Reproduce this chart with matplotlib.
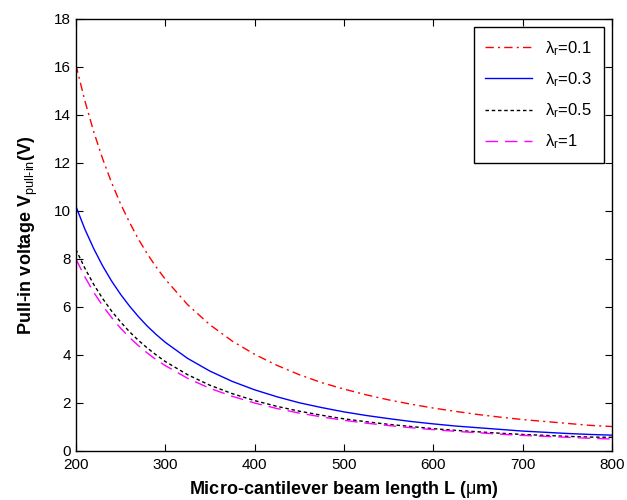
import numpy as np
import matplotlib
matplotlib.use('Agg')
import matplotlib.pyplot as plt

plt.rcParams['font.family'] = ['Liberation Sans', 'DejaVu Sans']
plt.rcParams['mathtext.fontset'] = 'custom'
plt.rcParams['mathtext.rm'] = 'Liberation Sans'
plt.rcParams['mathtext.it'] = 'Liberation Sans'

# beam length (um)
length = [200, 210, 220, 230, 240, 250, 260, 270, 280, 290, 300, 325, 350, 375,
          400, 425, 450, 475, 500, 525, 550, 575, 600, 625, 650, 675, 700, 725,
          750, 775, 800]

v_01 = [16.1, 14.60, 13.30, 12.17, 11.18, 10.30, 9.53, 8.83, 8.21, 7.66, 7.16,
        6.10, 5.26, 4.58, 4.03, 3.57, 3.18, 2.85, 2.58, 2.34, 2.13, 1.95, 1.79,
        1.65, 1.52, 1.41, 1.31, 1.23, 1.15, 1.07, 1.02]
v_03 = [10.2, 9.25, 8.43, 7.71, 7.08, 6.53, 6.04, 5.60, 5.20, 4.85, 4.53,
        3.86, 3.33, 2.90, 2.55, 2.26, 2.01, 1.81, 1.63, 1.48, 1.35, 1.23, 1.13,
        1.04, 0.97, 0.90, 0.83, 0.78, 0.73, 0.69, 0.66]
v_05 = [8.4, 7.62, 6.94, 6.35, 5.83, 5.38, 4.97, 4.61, 4.29, 4.00, 3.73,
        3.18, 2.74, 2.39, 2.10, 1.86, 1.66, 1.49, 1.34, 1.22, 1.11, 1.02, 0.93,
        0.86, 0.80, 0.74, 0.69, 0.65, 0.61, 0.58, 0.57]
v_1 = [8.0, 7.26, 6.61, 6.05, 5.56, 5.12, 4.73, 4.39, 4.08, 3.80, 3.56,
       3.03, 2.61, 2.28, 2.00, 1.77, 1.58, 1.42, 1.28, 1.16, 1.06, 0.97, 0.89,
       0.82, 0.76, 0.70, 0.65, 0.61, 0.57, 0.53, 0.50]

labels = ['$\\lambda_r$=0.1', '$\\lambda_r$=0.3', '$\\lambda_r$=0.5', '$\\lambda_r$=1']

fig = plt.figure(figsize=(6.27, 5), dpi=100)
ax = fig.add_axes([0.121, 0.098, 0.855, 0.864])

ax.plot(length, v_01, color='red', ls=(0, (6, 3, 1.5, 3)), lw=1, label=labels[0])
ax.plot(length, v_03, color='blue', ls='-', lw=1, label=labels[1])
ax.plot(length, v_05, color='black', ls=(0, (2.5, 2)), lw=1, label=labels[2])
ax.plot(length, v_1, color='magenta', ls=(0, (9, 5)), lw=1, label=labels[3])

ax.set_xlim(200, 800)
ax.set_ylim(0, 18)
ax.set_xticks(np.arange(200, 801, 100))
ax.set_yticks(np.arange(0, 19, 2))
ax.tick_params(direction='in', top=True, right=True, labelsize=11, length=5)
ax.tick_params(axis='x', pad=5)
for s in ax.spines.values():
    s.set_linewidth(1)

ax.set_xlabel('Micro-cantilever beam length L ($\\mu$m)', fontsize=13, fontweight='bold', labelpad=5)
ax.set_ylabel('Pull-in voltage V$_{\\text{pull-in}}$(V)', fontsize=13, fontweight='bold', labelpad=10)

leg = ax.legend(loc='upper right', fontsize=12, fancybox=False, edgecolor='black',
                framealpha=1, handlelength=2.8, borderpad=0.7, labelspacing=0.75,
                borderaxespad=0.5)
leg.get_frame().set_linewidth(1)

fig.savefig('out.png', dpi=100)
